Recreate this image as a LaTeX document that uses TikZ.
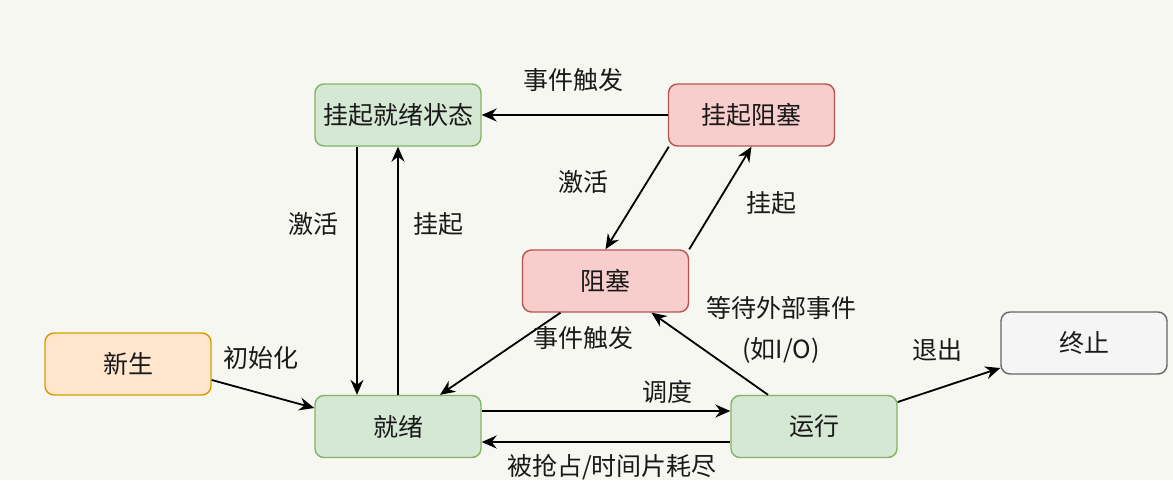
\documentclass[tikz,border=0pt]{standalone}
\usepackage{fontspec}
\newfontfamily\cjk{Noto Sans CJK SC}
\usetikzlibrary{arrows.meta,calc}
\definecolor{bgc}{HTML}{F7F7F2}
\definecolor{gfill}{HTML}{D5E8D4}
\definecolor{gline}{HTML}{82B366}
\definecolor{rfill}{HTML}{F8CECC}
\definecolor{rline}{HTML}{B85450}
\definecolor{ofill}{HTML}{FFE6CC}
\definecolor{oline}{HTML}{D79B00}
\definecolor{hfill}{HTML}{F5F5F5}
\definecolor{hline}{HTML}{666666}
\tikzset{
  box/.style={rectangle, rounded corners=9pt, minimum width=166pt, minimum height=62pt,
    line width=1.4pt, inner sep=0pt, font=\cjk\fontsize{25}{29}\selectfont, text=black!90},
  gbox/.style={box, fill=gfill, draw=gline},
  rbox/.style={box, fill=rfill, draw=rline},
  obox/.style={box, fill=ofill, draw=oline},
  hbox/.style={box, fill=hfill, draw=hline},
  lbl/.style={inner sep=0pt, font=\cjk\fontsize{25}{29}\selectfont, text=black!90},
  conn/.style={line width=1.8pt, -{Stealth[length=15pt,width=13pt,inset=5pt]}},
}
\begin{document}
\begin{tikzpicture}[x=1pt,y=-1pt]
\fill[bgc] (0,0) rectangle (1173,480);
\useasboundingbox (0,0) rectangle (1173,480);

\node[gbox] (sr) at (398,115) {挂起就绪状态};
\node[rbox] (sb) at (751.5,115) {挂起阻塞};
\node[rbox] (bl) at (605.5,281) {阻塞};
\node[obox] (xs) at (128,364) {新生};
\node[gbox] (jx) at (398,426.5) {就绪};
\node[gbox] (yx) at (814,426.5) {运行};
\node[hbox] (zz) at (1084,343) {终止};

\draw[conn] (sb.west) -- (sr.east);
\draw[conn] ([xshift=-41pt]sr.south) -- ([xshift=-41pt]jx.north);
\draw[conn] (jx.north) -- (sr.south);
\draw[conn] ([xshift=1pt]sb.south west) -- (bl.north);
\draw[conn] (bl.north east) -- (sb.south);
\draw[conn] ([xshift=-45pt]bl.south) -- ([xshift=42pt]jx.north);
\draw[conn] ([xshift=-46pt]yx.north) -- ([xshift=46pt]bl.south);
\draw[conn] ([yshift=-16pt]xs.east) -- ([yshift=18.5pt]jx.west);
\draw[conn] ([yshift=15.5pt]jx.east) -- ([yshift=15.5pt]yx.west);
\draw[conn] ([yshift=-15.5pt]yx.west) -- ([yshift=-15.5pt]jx.east);
\draw[conn] ([yshift=24.5pt]yx.east) -- ([yshift=-25pt]zz.west);

\node[lbl] (l1) at (573,80) {事件触发};
\node[lbl] (l2) at (313,224) {激活};
\node[lbl] (l3) at (438,224) {挂起};
\node[lbl] (l4) at (583,182) {激活};
\node[lbl] (l5) at (771,203) {挂起};
\node[lbl] (l6) at (583,338) {事件触发};
\node[lbl] (l7) at (781,308) {等待外部事件};
\node[lbl] (l8) at (781,350) {(如I/O)};
\node[lbl] (l9) at (261,358) {初始化};
\node[lbl] (l10) at (667,392) {调度};
\node[lbl] (l11) at (612,467) {被抢占/时间片耗尽};
\node[lbl] (l12) at (937,350) {退出};
\end{tikzpicture}
\end{document}
